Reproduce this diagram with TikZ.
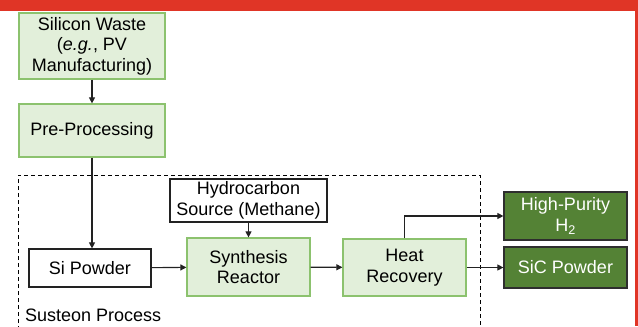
\documentclass[tikz,border=0pt]{standalone}
\usepackage{fontspec}
\setmainfont{Liberation Sans}
\usetikzlibrary{arrows.meta,positioning}
\definecolor{lgfill}{HTML}{E2EFDA}
\definecolor{lgdraw}{HTML}{8CC26E}
\definecolor{dgfill}{HTML}{548235}
\definecolor{dgdraw}{HTML}{2E2E2E}
\definecolor{redbar}{HTML}{E03526}
\definecolor{linec}{HTML}{222222}
\tikzset{
  base/.style={rectangle, inner sep=0pt, align=center, line width=1.2bp,
    font=\fontsize{18bp}{20.5bp}\selectfont},
  lightbox/.style={base, fill=lgfill, draw=lgdraw},
  plainbox/.style={base, fill=white, draw=linec},
  darkbox/.style={base, fill=dgfill, draw=dgdraw, text=white},
  conn/.style={draw=linec, line width=1.1bp, -{Triangle[length=6bp,width=6bp]}},
}
\begin{document}
\begin{tikzpicture}[x=1bp,y=-1bp]
\useasboundingbox (0,0) rectangle (638,326);
\fill[redbar] (0,0) rectangle (638,10.5);
\fill[redbar] (634.5,0) rectangle (638,326);
% dashed container
\draw[dashed, line width=1bp, dash pattern=on 4bp off 3bp] (18,330) -- (18,175) -- (480,175) -- (480,330);
\node[anchor=base west, font=\fontsize{18bp}{20bp}\selectfont, inner sep=0pt] (lab) at (25,321) {Susteon Process};
% nodes
\node[lightbox, minimum width=146bp, minimum height=66bp] (waste) at (92,46) {Silicon Waste\\(\textit{e.g.}, PV\\Manufacturing)};
\node[lightbox, minimum width=146bp, minimum height=53bp] (pre) at (92,130.5) {Pre-Processing};
\node[plainbox, minimum width=122bp, minimum height=38bp] (si) at (90,268) {Si Powder};
\node[plainbox, minimum width=157bp, minimum height=43bp] (hc) at (248.5,200.5) {Hydrocarbon\\Source (Methane)};
\node[lightbox, minimum width=123bp, minimum height=58bp] (syn) at (248.5,267) {Synthesis\\Reactor};
\node[lightbox, minimum width=123bp, minimum height=57bp] (heat) at (404.5,267.5) {Heat\\Recovery};
\node[darkbox, minimum width=123bp, minimum height=48bp] (h2) at (565.5,216) {High-Purity\\H\textsubscript{2}};
\node[darkbox, minimum width=123bp, minimum height=41bp] (sic) at (565.5,267.5) {SiC Powder};
% connectors
\draw[conn] (waste) -- (pre);
\draw[conn] (pre.south) -- (si.north -| pre.south);
\draw[conn] (si) -- (syn);
\draw[conn] (hc) -- (syn);
\draw[conn] (syn) -- (heat);
\draw[conn] (heat.east) -- (sic.west);
\draw[conn] (heat.north) |- (h2.west);
\end{tikzpicture}
\end{document}
